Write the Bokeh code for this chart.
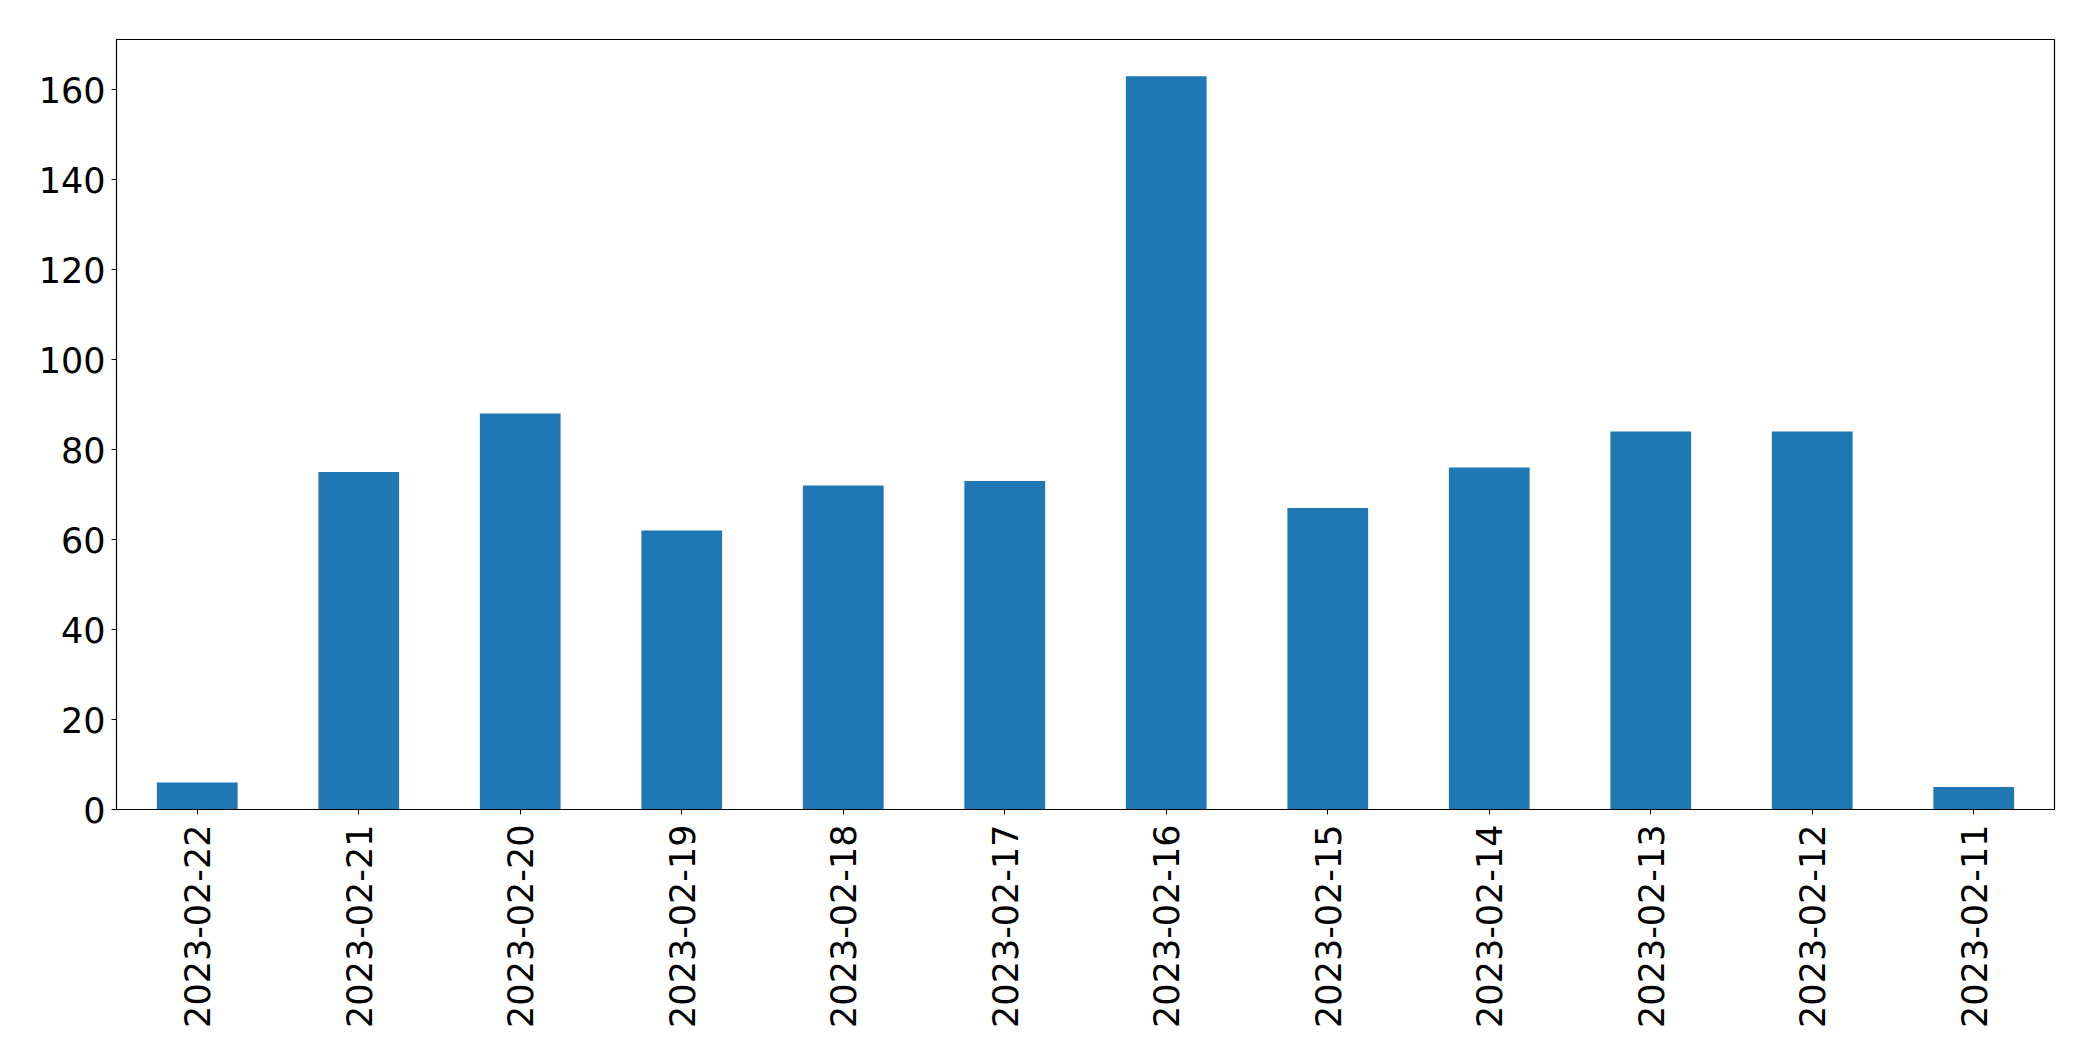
import math
from bokeh.plotting import figure
from bokeh.models import FactorRange, Range1d, SingleIntervalTicker, ColumnDataSource
from bokeh.embed import file_html
from bokeh.resources import INLINE

dates = ["2023-02-22", "2023-02-21", "2023-02-20", "2023-02-19", "2023-02-18", "2023-02-17",
         "2023-02-16", "2023-02-15", "2023-02-14", "2023-02-13", "2023-02-12", "2023-02-11"]
counts = [6, 75, 88, 62, 72, 73, 163, 67, 76, 84, 84, 5]

src = ColumnDataSource(data=dict(date=dates, count=counts))

p = figure(x_range=FactorRange(factors=dates), y_range=Range1d(0, max(counts) * 1.05),
           frame_width=1938, frame_height=770, width=2085, height=1045,
           output_backend="svg", toolbar_location=None,
           min_border_left=116, min_border_right=31, min_border_top=39, min_border_bottom=236)

p.vbar(x="date", top="count", width=0.5, source=src, color="#1f77b4", line_color=None)

p.xgrid.visible = False
p.ygrid.visible = False
p.outline_line_color = "black"
p.outline_line_alpha = 1
p.outline_line_width = 1.2

for ax in (p.xaxis, p.yaxis):
    ax.major_label_text_font = "DejaVu Sans"
    ax.major_label_text_font_size = "35px"
    ax.major_label_text_color = "black"
    ax.axis_line_color = "black"
    ax.major_tick_line_color = "black"
    ax.major_tick_out = 5
    ax.major_tick_in = 0
    ax.minor_tick_line_color = None

p.yaxis.ticker = SingleIntervalTicker(interval=20)
p.yaxis.major_label_standoff = 6
p.xaxis.major_label_orientation = math.pi / 2
p.xaxis.major_label_standoff = 10

open("out.html", "w").write(file_html(p, INLINE))
